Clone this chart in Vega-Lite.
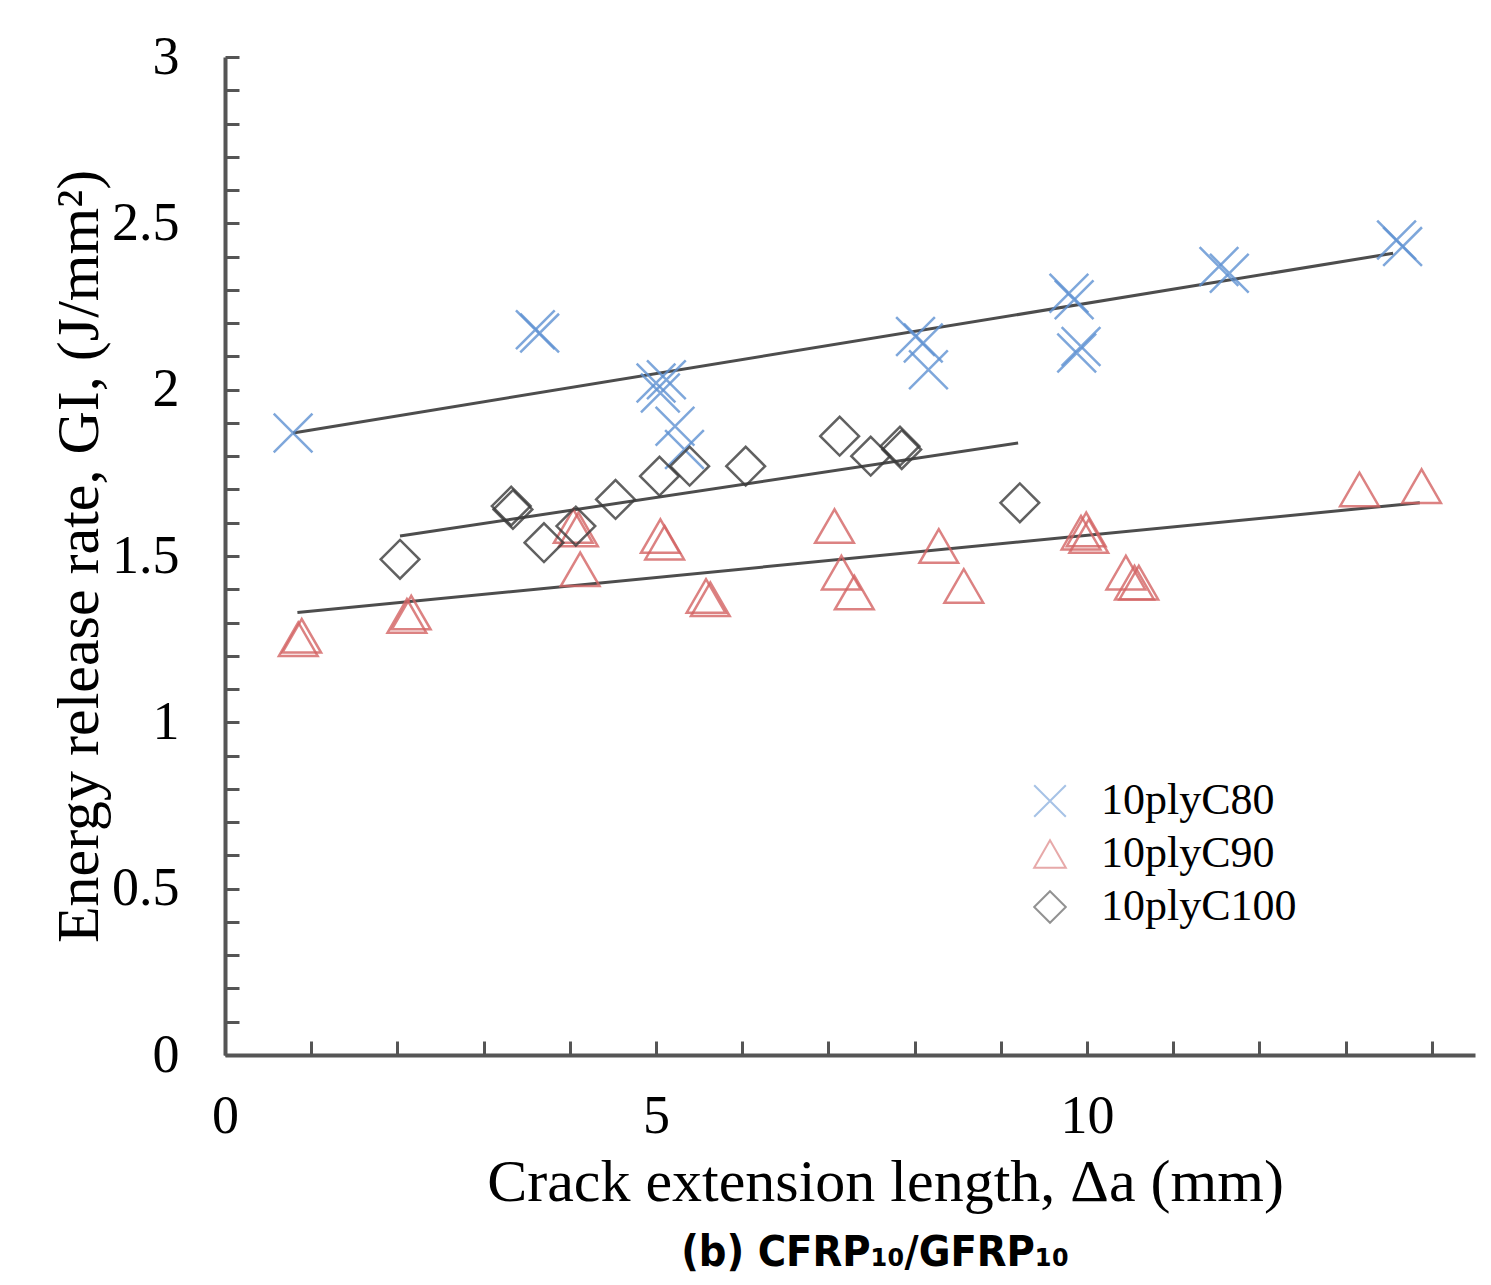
{
  "$schema": "https://vega.github.io/schema/vega-lite/v6.json",
  "width": 1250,
  "height": 998,
  "autosize": {"type": "none"},
  "padding": {"left": 225, "top": 57, "right": 16, "bottom": 230},
  "background": "white",
  "title": {
    "text": "(b) CFRP₁₀/GFRP₁₀",
    "orient": "bottom",
    "anchor": "middle",
    "dx": 25,
    "offset": 20,
    "font": "DejaVu Sans Condensed, Roboto, sans-serif",
    "fontSize": 43,
    "fontWeight": "bold",
    "color": "#000000"
  },
  "datasets": {
    "points": [
      {"series": "10plyC80", "a": 0.79, "G": 1.87},
      {"series": "10plyC80", "a": 3.60, "G": 2.18},
      {"series": "10plyC80", "a": 3.65, "G": 2.17},
      {"series": "10plyC80", "a": 5.00, "G": 2.02},
      {"series": "10plyC80", "a": 5.12, "G": 2.03},
      {"series": "10plyC80", "a": 5.05, "G": 1.99},
      {"series": "10plyC80", "a": 5.22, "G": 1.89},
      {"series": "10plyC80", "a": 5.33, "G": 1.82},
      {"series": "10plyC80", "a": 8.01, "G": 2.16},
      {"series": "10plyC80", "a": 8.10, "G": 2.14},
      {"series": "10plyC80", "a": 8.16, "G": 2.06},
      {"series": "10plyC80", "a": 9.79, "G": 2.29},
      {"series": "10plyC80", "a": 9.85, "G": 2.27},
      {"series": "10plyC80", "a": 9.93, "G": 2.13},
      {"series": "10plyC80", "a": 9.88, "G": 2.11},
      {"series": "10plyC80", "a": 11.53, "G": 2.37},
      {"series": "10plyC80", "a": 11.65, "G": 2.35},
      {"series": "10plyC80", "a": 13.59, "G": 2.45},
      {"series": "10plyC80", "a": 13.66, "G": 2.43},
      {"series": "10plyC90", "a": 0.89, "G": 1.26},
      {"series": "10plyC90", "a": 0.85, "G": 1.25},
      {"series": "10plyC90", "a": 2.11, "G": 1.32},
      {"series": "10plyC90", "a": 2.16, "G": 1.33},
      {"series": "10plyC90", "a": 4.04, "G": 1.59},
      {"series": "10plyC90", "a": 4.10, "G": 1.58},
      {"series": "10plyC90", "a": 4.12, "G": 1.46},
      {"series": "10plyC90", "a": 5.05, "G": 1.56},
      {"series": "10plyC90", "a": 5.10, "G": 1.54},
      {"series": "10plyC90", "a": 5.63, "G": 1.37},
      {"series": "10plyC90", "a": 5.58, "G": 1.38},
      {"series": "10plyC90", "a": 7.07, "G": 1.59},
      {"series": "10plyC90", "a": 7.15, "G": 1.45},
      {"series": "10plyC90", "a": 7.30, "G": 1.39},
      {"series": "10plyC90", "a": 8.28, "G": 1.53},
      {"series": "10plyC90", "a": 8.57, "G": 1.41},
      {"series": "10plyC90", "a": 9.93, "G": 1.57},
      {"series": "10plyC90", "a": 9.99, "G": 1.58},
      {"series": "10plyC90", "a": 10.02, "G": 1.56},
      {"series": "10plyC90", "a": 10.45, "G": 1.45},
      {"series": "10plyC90", "a": 10.60, "G": 1.42},
      {"series": "10plyC90", "a": 10.55, "G": 1.42},
      {"series": "10plyC90", "a": 13.16, "G": 1.70},
      {"series": "10plyC90", "a": 13.88, "G": 1.71},
      {"series": "10plyC100", "a": 2.03, "G": 1.49},
      {"series": "10plyC100", "a": 3.32, "G": 1.65},
      {"series": "10plyC100", "a": 3.34, "G": 1.64},
      {"series": "10plyC100", "a": 3.70, "G": 1.54},
      {"series": "10plyC100", "a": 4.07, "G": 1.59},
      {"series": "10plyC100", "a": 4.53, "G": 1.67},
      {"series": "10plyC100", "a": 5.04, "G": 1.74},
      {"series": "10plyC100", "a": 5.39, "G": 1.77},
      {"series": "10plyC100", "a": 6.04, "G": 1.77},
      {"series": "10plyC100", "a": 7.13, "G": 1.86},
      {"series": "10plyC100", "a": 7.49, "G": 1.80},
      {"series": "10plyC100", "a": 7.83, "G": 1.83},
      {"series": "10plyC100", "a": 7.85, "G": 1.82},
      {"series": "10plyC100", "a": 9.22, "G": 1.66}
    ],
    "fits": [
      {"series": "10plyC80", "a": 0.79, "G": 1.87},
      {"series": "10plyC80", "a": 13.55, "G": 2.41},
      {"series": "10plyC90", "a": 0.84, "G": 1.33},
      {"series": "10plyC90", "a": 13.86, "G": 1.66},
      {"series": "10plyC100", "a": 2.03, "G": 1.56},
      {"series": "10plyC100", "a": 9.2, "G": 1.84}
    ]
  },
  "layer": [
    {
      "data": {"name": "fits"},
      "mark": {"type": "line", "color": "#4d4d4d", "strokeWidth": 3},
      "encoding": {
        "x": {"field": "a", "type": "quantitative"},
        "y": {"field": "G", "type": "quantitative"},
        "detail": {"field": "series"}
      }
    },
    {
      "data": {"name": "points"},
      "mark": {"type": "point", "filled": false, "strokeWidth": 2.5, "opacity": 0.8},
      "encoding": {
        "x": {
          "field": "a",
          "type": "quantitative",
          "scale": {"domain": [0, 14.5], "nice": false, "zero": false},
          "axis": {
            "title": "Crack extension length, Δa (mm)",
            "values": [0,1,2,3,4,5,6,7,8,9,10,11,12,13,14],
            "tickCount": 100,
            "format": "~g",
            "labelExpr": "datum.value % 5 === 0 ? datum.label : ''",
            "labelOverlap": false,
            "labelFlush": false,
            "tickSize": -14,
            "labelPadding": 48,
            "titleX": 660,
            "titleY": 145,
            "titleAnchor": null,
            "titleAlign": "center",
            "titleBaseline": "alphabetic"
          }
        },
        "y": {
          "field": "G",
          "type": "quantitative",
          "scale": {"domain": [0, 3], "nice": false, "zero": false},
          "axis": {
            "title": "Energy release rate, GI, (J/mm²)",
            "values": [0,0.1,0.2,0.3,0.4,0.5,0.6,0.7,0.8,0.9,1,1.1,1.2,1.3,1.4,1.5,1.6,1.7,1.8,1.9,2,2.1,2.2,2.3,2.4,2.5,2.6,2.7,2.8,2.9,3],
            "tickCount": 100,
            "format": "~g",
            "labelExpr": "abs(datum.value*2 - round(datum.value*2)) < 0.001 ? datum.label : ''",
            "labelOverlap": false,
            "labelFlush": false,
            "tickSize": -14,
            "labelPadding": 60,
            "titleX": -128,
            "titleY": 499,
            "titleAngle": -90,
            "titleAlign": "center",
            "titleBaseline": "alphabetic"
          }
        },
        "color": {
          "field": "series",
          "type": "nominal",
          "scale": {"domain": ["10plyC80", "10plyC90", "10plyC100"], "range": ["#5f92d3", "#d46464", "#3a3a3a"]},
          "legend": {
            "title": null,
            "orient": "none",
            "legendX": 803,
            "legendY": 722,
            "labelFont": "Liberation Serif",
            "labelFontSize": 44,
            "labelLimit": 0,
            "labelColor": "#000000",
            "symbolSize": 1000,
            "symbolStrokeWidth": 2,
            "symbolOpacity": 0.55,
            "labelOffset": 29,
            "rowPadding": 9
          }
        },
        "shape": {
          "field": "series",
          "type": "nominal",
          "scale": {"domain": ["10plyC80", "10plyC90", "10plyC100"], "range": ["M-1,-1L1,1M-1,1L1,-1", "triangle-up", "diamond"]},
          "legend": null
        },
        "size": {"value": 1500}
      }
    }
  ],
  "config": {
    "view": {"stroke": null},
    "axis": {
      "domainColor": "#555555",
      "domainWidth": 4,
      "tickColor": "#555555",
      "tickWidth": 3,
      "grid": false,
      "labelFont": "Liberation Serif",
      "labelFontSize": 54,
      "labelColor": "#000000",
      "titleFont": "Liberation Serif",
      "titleFontSize": 60,
      "titleFontWeight": "normal",
      "titleColor": "#000000"
    }
  }
}
